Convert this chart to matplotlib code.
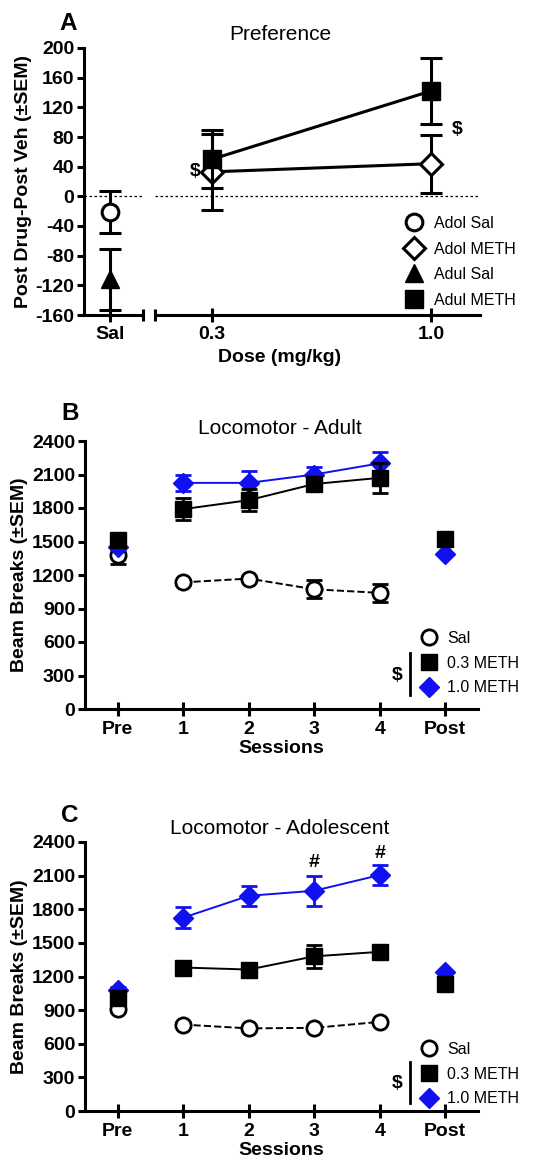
import matplotlib
matplotlib.use("Agg")
import matplotlib.pyplot as plt
from matplotlib.lines import Line2D

plt.rcParams['font.family'] = ['Liberation Sans', 'DejaVu Sans']
plt.rcParams['axes.unicode_minus'] = False

# ---- panel A data: preference ----
sal_x = [0]
adol_sal_mean = [-21]
adol_sal_sem = [28]
adul_sal_mean = [-112]
adul_sal_sem = [41]

doses = [0.3, 1.0]
adol_meth_mean = [33, 44]
adol_meth_sem = [51, 39]
adul_meth_mean = [50, 142]
adul_meth_sem = [39, 45]

# ---- panels B / C data: locomotor ----
sess_labels = ['Pre', '1', '2', '3', '4', 'Post']
sal_pos = [0, 1, 2, 3, 4]
meth_pos = [0, 1, 2, 3, 4, 5]

adult_sal = [1380, 1134, 1168, 1072, 1040]
adult_sal_sem = [80, 25, 25, 80, 80]
adult_03 = [1515, 1790, 1870, 2015, 2070]
adult_03_post = 1525
adult_03_sem = [40, 100, 100, 40, 135]
adult_10 = [1454, 2025, 2025, 2100, 2200]
adult_10_post = 1388
adult_10_sem = [30, 75, 110, 70, 105]

adol_sal = [910, 771, 737, 742, 795]
adol_sal_sem2 = [25, 20, 20, 20, 20]
adol_03 = [1004, 1280, 1262, 1380, 1420]
adol_03_post = 1135
adol_03_sem = [40, 40, 40, 100, 40]
adol_10 = [1078, 1725, 1920, 1965, 2105]
adol_10_post = 1240
adol_10_sem = [30, 95, 90, 135, 90]

W, H = 534, 1161
fig = plt.figure(figsize=(W / 100, H / 100), dpi=100)

def rect(l, t, r, b):
    return [l / W, 1 - b / H, (r - l) / W, (b - t) / H]

LW = 2.2
TICKFS = 14
BLUE = '#1010f0'

# ================= Panel A =================
axl = fig.add_axes(rect(84, 48, 143, 315))
axr = fig.add_axes(rect(155, 48, 480, 315))

for ax in (axl, axr):
    ax.set_ylim(-160, 200)
    for s in ('top', 'right'):
        ax.spines[s].set_visible(False)
    ax.spines['bottom'].set_linewidth(LW)
    ax.spines['left'].set_linewidth(LW)
    ax.axhline(0, color='black', lw=0.9, ls=(0, (2, 2)), zorder=1)
    ax.tick_params(axis='x', direction='inout', length=10, width=LW,
                   labelsize=TICKFS, pad=3)
    ax.patch.set_alpha(0)

axr.spines['left'].set_visible(False)
axr.set_yticks([])
axl.set_yticks(range(-160, 201, 40))
axl.tick_params(axis='y', direction='out', length=5, width=LW,
                labelsize=TICKFS, pad=2)
for lab in axl.get_yticklabels():
    lab.set_fontweight('bold')

axl.set_xlim(-0.44, 0.56)
axl.set_xticks(sal_x)
axl.set_xticklabels(['Sal'], fontweight='bold')
axr.set_xlim(0.118, 1.157)
axr.set_xticks(doses)
axr.set_xticklabels(['0.3', '1.0'], fontweight='bold')

# break marks
axl.plot([1], [0], marker='|', ms=9, mew=LW, color='black',
         transform=axl.transAxes, clip_on=False)
axr.plot([0], [0], marker='|', ms=9, mew=LW, color='black',
         transform=axr.transAxes, clip_on=False)

ekw = dict(color='black', elinewidth=LW, capsize=8, capthick=LW, lw=LW)
axl.errorbar(sal_x, adul_sal_mean, yerr=adul_sal_sem, fmt='^', ms=13,
             mfc='black', mec='black', clip_on=False, zorder=3, **ekw)
axl.errorbar(sal_x, adol_sal_mean, yerr=adol_sal_sem, fmt='o', ms=12,
             mfc='white', mec='black', mew=LW, clip_on=False, zorder=4, **ekw)
axr.errorbar(doses, adol_meth_mean, yerr=adol_meth_sem, fmt='-D', ms=11,
             mfc='white', mec='black', mew=LW, zorder=3, **ekw)
axr.errorbar(doses, adul_meth_mean, yerr=adul_meth_sem, fmt='-s', ms=13,
             mfc='black', mec='black', zorder=4, **ekw)

axr.text(0.245, 33, '$', fontsize=14, fontweight='bold', ha='center', va='center')
axr.text(1.085, 90, '$', fontsize=14, fontweight='bold', ha='center', va='center')

hA = [
    Line2D([], [], ls='none', marker='o', ms=12, mfc='white', mec='black', mew=LW),
    Line2D([], [], ls='none', marker='D', ms=11, mfc='white', mec='black', mew=LW),
    Line2D([], [], ls='none', marker='^', ms=13, color='black'),
    Line2D([], [], ls='none', marker='s', ms=13, color='black'),
]
axr.legend(hA, ['Adol Sal', 'Adol METH', 'Adul Sal', 'Adul METH'],
           loc='upper left', bbox_to_anchor=((404 - 155) / 325, (315 - 216) / 267),
           frameon=False, fontsize=11.5, handlelength=1.2, handletextpad=0.7,
           labelspacing=0.66, borderaxespad=0, borderpad=0)

axl.set_ylabel('Post Drug-Post Veh (±SEM)', fontsize=14, fontweight='bold',
               labelpad=2)
fig.text(280 / W, 1 - 34 / H, 'Preference', fontsize=15, ha='center', va='center')
fig.text(68 / W, 1 - 24 / H, 'A', fontsize=17.5, fontweight='bold', ha='center',
         va='center')
fig.text(280 / W, 1 - 357 / H, 'Dose (mg/kg)', fontsize=14, fontweight='bold',
         ha='center', va='center')

# ================= Panels B and C =================
def loco(box, title, letter, letter_xy, sal, sal_sem, m03, m03_post, m03_sem,
         m10, m10_post, m10_sem, legend_top, bar, marks=None):
    l, t, r, b = box
    ax = fig.add_axes(rect(*box))
    ax.set_xlim(-0.5, 5.5)
    ax.set_ylim(0, 2400)
    for s in ('top', 'right'):
        ax.spines[s].set_visible(False)
    for s in ('left', 'bottom'):
        ax.spines[s].set_linewidth(LW)
    ax.set_yticks(range(0, 2401, 300))
    ax.set_xticks(meth_pos)
    ax.set_xticklabels(sess_labels)
    ax.tick_params(axis='y', direction='out', length=5, width=LW,
                   labelsize=TICKFS, pad=2)
    ax.tick_params(axis='x', direction='inout', length=10, width=LW,
                   labelsize=TICKFS, pad=4)
    for lab in ax.get_yticklabels() + ax.get_xticklabels():
        lab.set_fontweight('bold')

    kw = dict(elinewidth=2, capsize=6, capthick=2, clip_on=False)
    # Pre points (unconnected)
    ax.errorbar(sal_pos[:1], sal[:1], yerr=sal_sem[:1], fmt='o', ms=11,
                mfc='white', mec='black', mew=2, ecolor='black', zorder=3, **kw)
    ax.errorbar(sal_pos[1:], sal[1:], yerr=sal_sem[1:], fmt='o', ls='--',
                lw=1.4, color='black', ms=11, mfc='white', mec='black', mew=2,
                ecolor='black', zorder=3, **kw)
    ax.errorbar(meth_pos[:1], m10[:1], yerr=m10_sem[:1], fmt='D', ms=10,
                color=BLUE, ecolor=BLUE, zorder=4, **kw)
    ax.errorbar(meth_pos[1:5], m10[1:], yerr=m10_sem[1:], fmt='-D', lw=1.4,
                ms=10, color=BLUE, ecolor=BLUE, zorder=4, **kw)
    ax.plot([meth_pos[5]], [m10_post], 'D', ms=10, color=BLUE, zorder=4,
            clip_on=False)
    ax.errorbar(meth_pos[:1], m03[:1], yerr=m03_sem[:1], fmt='s', ms=12,
                color='black', ecolor='black', zorder=5, **kw)
    ax.errorbar(meth_pos[1:5], m03[1:], yerr=m03_sem[1:], fmt='-s', lw=1.4,
                ms=12, color='black', ecolor='black', zorder=5, **kw)
    ax.plot([meth_pos[5]], [m03_post], 's', ms=12, color='black', zorder=5,
            clip_on=False)

    if marks:
        for xp, yp in marks:
            ax.text(xp, yp, '#', fontsize=14, fontweight='bold', ha='center',
                    va='center')

    h = [
        Line2D([], [], ls='none', marker='o', ms=11, mfc='white', mec='black', mew=2),
        Line2D([], [], ls='none', marker='s', ms=12, color='black'),
        Line2D([], [], ls='none', marker='D', ms=10, color=BLUE),
    ]
    ax.legend(h, ['Sal', '0.3 METH', '1.0 METH'], loc='upper left',
              bbox_to_anchor=((420 - l) / (r - l), (b - legend_top) / (b - t)),
              frameon=False, fontsize=11.5, handlelength=1.1, handletextpad=0.6,
              labelspacing=0.6, borderaxespad=0, borderpad=0)
    # $ bracket
    bx, by0, by1, sx, sy = bar
    fy = lambda p: (b - p) / (b - t)
    fx = lambda p: (p - l) / (r - l)
    ax.plot([fx(bx)] * 2, [fy(by0), fy(by1)], color='black', lw=2,
            transform=ax.transAxes, clip_on=False)
    ax.text(fx(sx), fy(sy), '$', fontsize=14, fontweight='bold', ha='center',
            va='center', transform=ax.transAxes)

    ax.set_ylabel('Beam Breaks (±SEM)', fontsize=14, fontweight='bold', labelpad=3)
    ax.set_xlabel('Sessions', fontsize=14, fontweight='bold', labelpad=1)
    fig.text(280 / W, 1 - (t - 13) / H, title, fontsize=15, ha='center',
             va='center')
    fig.text(letter_xy[0] / W, 1 - letter_xy[1] / H, letter, fontsize=17.5,
             fontweight='bold', ha='center', va='center')
    return ax

loco((85, 441, 478, 709), 'Locomotor - Adult', 'B', (70, 413),
     adult_sal, adult_sal_sem, adult_03, adult_03_post, adult_03_sem,
     adult_10, adult_10_post, adult_10_sem, legend_top=631,
     bar=(410, 653, 695, 397, 675))

loco((85, 842, 478, 1111), 'Locomotor - Adolescent', 'C', (70, 815),
     adol_sal, adol_sal_sem2, adol_03, adol_03_post, adol_03_sem,
     adol_10, adol_10_post, adol_10_sem, legend_top=1042,
     bar=(410, 1062, 1103, 397, 1083),
     marks=[(3, 2215), (4, 2295)])

fig.savefig('out.png', dpi=100)
